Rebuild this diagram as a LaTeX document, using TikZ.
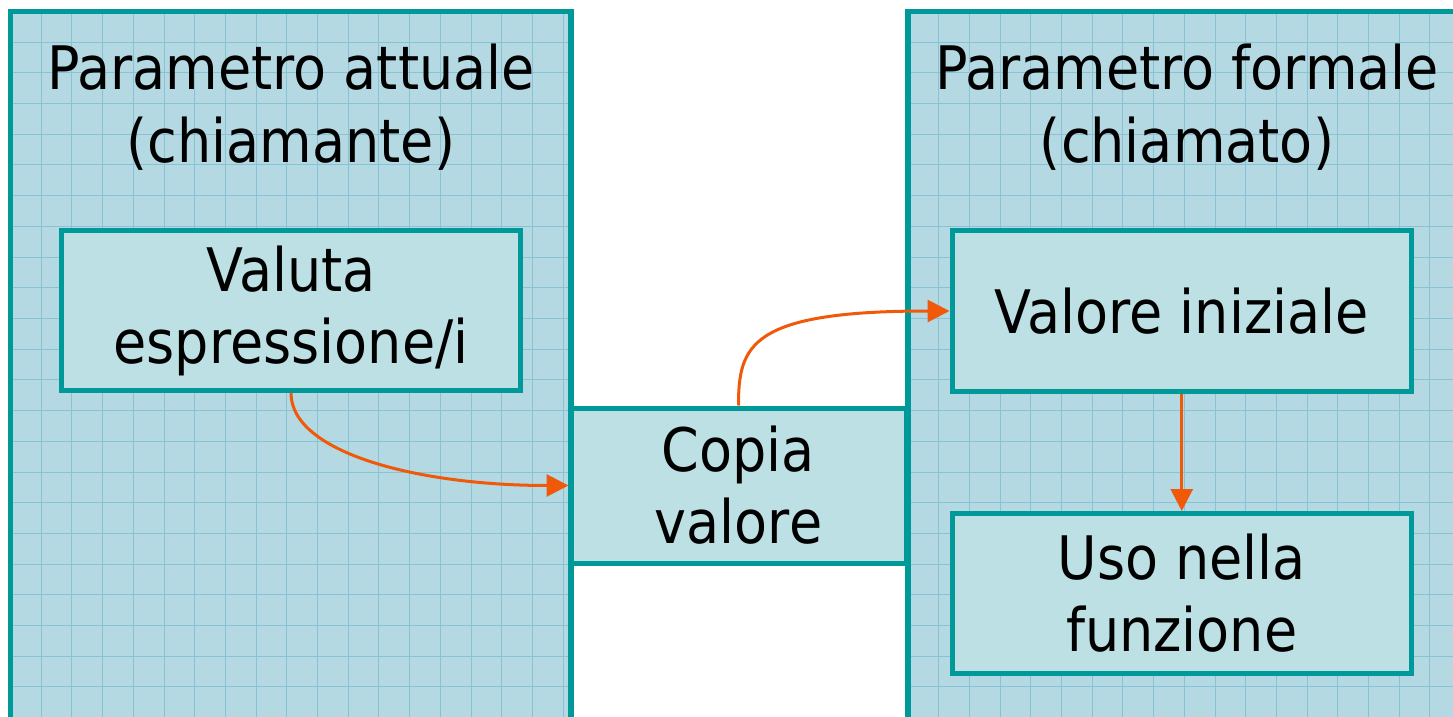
\documentclass[tikz,border=0pt]{standalone}
\usepackage{fontspec}
\setmainfont{DejaVu Sans}[FakeStretch=0.9]
\usetikzlibrary{arrows.meta}

\definecolor{panelfill}{RGB}{180,217,226}
\definecolor{gridline}{RGB}{136,195,213}
\definecolor{boxfill}{RGB}{188,224,227}
\definecolor{teal}{RGB}{0,153,153}
\definecolor{flow}{RGB}{240,88,10}

\tikzset{
  panelborder/.style={draw=teal, line width=2.6pt},
  gridrule/.style={draw=gridline, line width=0.5pt},
  box/.style={draw=teal, fill=boxfill, line width=2.5pt, align=center,
    inner sep=0pt, font=\fontsize{30}{36}\selectfont},
  title/.style={align=center, inner sep=0pt, font=\fontsize{30}{36.5}\selectfont},
  arr/.style={draw=flow, line width=1.5pt, -{Triangle[length=11pt,width=11pt]}},
}

\begin{document}
\begin{tikzpicture}[x=0.5pt, y=-0.5pt]
  \useasboundingbox (0,0) rectangle (1453,717);
  \clip (0,0) rectangle (1453,717);

  % left panel: graph-paper background
  \begin{scope}
    \clip (10.5,11.5) rectangle (571,760);
    \fill[panelfill] (10.5,11.5) rectangle (571,760);
    \foreach \i in {1,...,18}
      \draw[gridrule] ({10.5+30.7*\i},11.5) -- ++(0,760);
    \foreach \j in {1,...,24}
      \draw[gridrule] (10.5,{11.5+30.7*\j}) -- ++(600,0);
  \end{scope}
  \draw[panelborder] (10.5,760) -- (10.5,11.5) -- (571,11.5) -- (571,760);

  % right panel: graph-paper background
  \begin{scope}
    \clip (908,11.5) rectangle (1466,760);
    \fill[panelfill] (908,11.5) rectangle (1466,760);
    \foreach \i in {1,...,18}
      \draw[gridrule] ({908+30.7*\i},11.5) -- ++(0,760);
    \foreach \j in {1,...,24}
      \draw[gridrule] (908,{11.5+30.7*\j}) -- ++(600,0);
  \end{scope}
  \draw[panelborder] (908,760) -- (908,11.5) -- (1466,11.5) -- (1466,760);

  % panel titles
  \node[title] (tleft) at (291,107) {Parametro attuale\\(chiamante)};
  \node[title] (tright) at (1187,107) {Parametro formale\\(chiamato)};

  % boxes
  \node[box, minimum width=229.5pt, minimum height=80pt] (valuta) at (291,310.5)
    {Valuta\\espressione/i};
  \node[box, minimum width=167.5pt, minimum height=77.5pt] (copia) at (738.5,485.5)
    {Copia\\valore};
  \node[box, minimum width=229.75pt, minimum height=80pt] (valore) at (1181.75,311)
    {Valore iniziale};
  \node[box, minimum width=229.75pt, minimum height=80pt] (uso) at (1181.75,593.5)
    {Uso nella\\funzione};

  % connectors
  \draw[arr] (valuta.south) .. controls +(0,60) and +(-150,0) .. (copia.west);
  \draw[arr] (copia.north) .. controls +(0,-60) and +(-200,0) .. (valore.west);
  \draw[arr] (valore.south) -- (uso.north);
\end{tikzpicture}
\end{document}
